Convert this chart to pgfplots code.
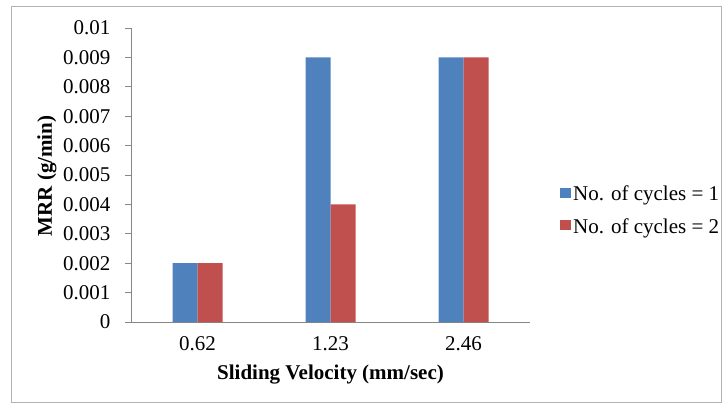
\documentclass[border=0pt]{standalone}
\usepackage{pgfplots}
\pgfplotsset{compat=1.18}
\usepackage{fontspec}
\setmainfont{Liberation Serif}
\definecolor{cblue}{HTML}{4F81BD}
\definecolor{cred}{HTML}{C0504D}
\definecolor{axgray}{HTML}{868686}
\begin{document}
\begin{tikzpicture}
\useasboundingbox (0pt,0pt) rectangle (727pt,-408pt);
\draw[color=black!30, line width=1pt] (11pt,-6pt) rectangle (721pt,-402pt);
\begin{axis}[
  at={(131pt,-322pt)}, anchor=south west,
  scale only axis, width=399pt, height=294pt,
  ybar, bar width=25pt,
  xmin=-0.5, xmax=2.5, ymin=0, ymax=0.01,
  xtick={0,1,2}, xticklabels={0.62,1.23,2.46},
  ytick={0,0.001,0.002,0.003,0.004,0.005,0.006,0.007,0.008,0.009,0.01},
  yticklabels={0,0.001,0.002,0.003,0.004,0.005,0.006,0.007,0.008,0.009,0.01},
  scaled y ticks=false,
  /pgf/number format/assume math mode=true,
  axis x line*=bottom, axis y line*=left,
  axis line style={axgray, line width=0.8pt, -},
  xtick style={draw=none},
  ytick style={axgray, line width=0.8pt},
  tick align=outside, major tick length=6pt,
  tick label style={font=\fontsize{21}{23}\selectfont},
  yticklabel style={xshift=-11pt},
  xticklabel style={yshift=-5pt},
  xlabel={\textbf{Sliding Velocity (mm/sec)}},
  every axis x label/.style={at={(axis description cs:0.5,-0.18)}, anchor=center, font=\fontsize{21}{23}\selectfont},
  legend style={at={(axis description cs:1.075,0.38)}, anchor=west, draw=none,
    font=\fontsize{21}{23}\selectfont, row sep=12pt,
    legend cell align=left, inner sep=0pt,
    /tikz/every even column/.style={column sep=3pt}},
  legend image code/.code={\fill[#1] (0pt,-4pt) rectangle (11pt,6pt);},
]
\addplot[fill=cblue, draw=none, bar shift=-12.5pt] coordinates {(0,0.002) (1,0.009) (2,0.009)};
\addplot[fill=cred, draw=none, bar shift=12.5pt] coordinates {(0,0.002) (1,0.004) (2,0.009)};
\legend{No. of cycles = 1, No. of cycles = 2}
\end{axis}
\node[rotate=90, anchor=center, font=\fontsize{21}{23}\selectfont] at (47pt,-176pt) {\textbf{MRR (g/min)}};
\end{tikzpicture}
\end{document}
